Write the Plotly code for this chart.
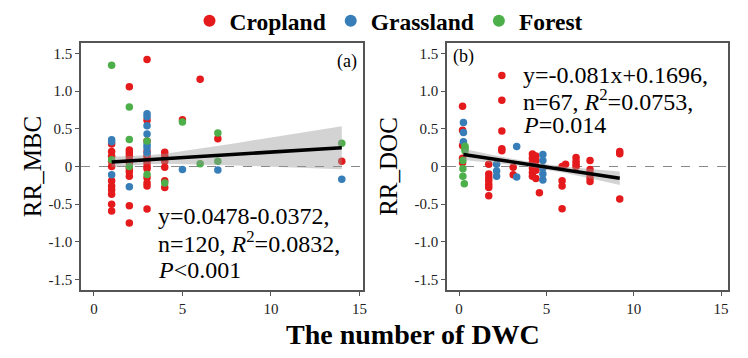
import plotly.graph_objects as go

# ---------- data: panel (a) RR_MBC ----------
mbc_crop_x = [1]*11 + [2]*11 + [3]*13 + [4]*6 + [5, 6, 7, 14]
mbc_crop_y = [0.30, 0.20, 0.135, 0.07, 0.0, -0.19, -0.26, -0.31, -0.37, -0.50, -0.59,
              1.06, 0.22, 0.18, 0.135, 0.09, 0.05, -0.03, -0.07, -0.13, -0.52, -0.75,
              1.42, 0.615, 0.34, 0.20, 0.135, 0.09, 0.05, 0.0, -0.03, -0.15, -0.22, -0.26, -0.565,
              0.19, 0.14, 0.07, -0.01, -0.19, -0.28,
              0.62, 1.16, 0.37, 0.07]
mbc_grass_x = [1, 1, 1, 2, 3, 3, 3, 3, 3, 3, 3, 5, 7, 14]
mbc_grass_y = [0.354, 0.33, -0.11, -0.27, 0.70, 0.66, 0.54, 0.43, 0.29, 0.25, 0.18, -0.04, -0.045, -0.17]
mbc_forest_x = [1, 1, 2, 2, 2, 3, 3, 4, 5, 6, 7, 7, 14]
mbc_forest_y = [1.345, 0.09, 0.79, 0.36, 0.0, 0.34, -0.105, -0.22, 0.59, 0.035, 0.445, 0.07, 0.31]

mbc_fit_x = [1, 14]
mbc_fit_y = [0.060, 0.250]
mbc_band_x = [1, 2, 3, 4, 6, 8, 10, 12, 14]
mbc_band_hi = [0.13, 0.136, 0.149, 0.17, 0.238, 0.31, 0.386, 0.46, 0.535]
mbc_band_lo = [-0.01, 0.014, 0.029, 0.038, 0.028, 0.014, -0.002, -0.018, -0.035]

# ---------- data: panel (b) RR_DOC ----------
doc_crop_x = [0.2]*5 + [1.7]*7 + [2.45]*5 + [3.1]*2 + [4.2]*6 + [4.4]*5 + [4.6] + [5.9]*4 + [6.1] + [6.7]*4 + [7.5]*5 + [9.2]*3
doc_crop_y = [0.80, 0.48, 0.28, 0.11, 0.05,
              0.03, -0.10, -0.15, -0.19, -0.24, -0.28, -0.39,
              1.21, 0.88, 0.47, 0.235, 0.21,
              -0.01, -0.11,
              0.165, 0.11, 0.05, -0.02, -0.08, -0.13,
              0.14, 0.08, 0.0, -0.05, -0.16,
              -0.35,
              -0.19, -0.26, -0.56, 0.0,
              0.03,
              0.12, 0.07, 0.03, 0.0,
              0.08, -0.04, -0.10, -0.15, -0.20,
              0.17, 0.20, -0.43]
doc_grass_x = [0.25, 0.25, 0.25, 2.15, 2.15, 2.15, 3.3, 3.3, 4.8, 4.8, 4.8, 4.8, 4.8]
doc_grass_y = [0.585, 0.45, 0.33, 0.03, -0.06, -0.13, 0.265, -0.14, 0.16, 0.08, -0.02, -0.10, -0.18]
doc_forest_x = [0.34, 0.34, 0.34, 0.22, 0.22, 0.22, 0.3]
doc_forest_y = [0.27, 0.24, 0.21, 0.08, -0.03, -0.13, -0.23]

doc_fit_x = [0.25, 9.2]
doc_fit_y = [0.16, -0.155]
doc_band_x = [0.25, 2, 4, 5, 6, 8, 9.2]
doc_band_hi = [0.235, 0.148, 0.063, 0.029, 0.0, -0.042, -0.065]
doc_band_lo = [0.085, 0.048, -0.007, -0.043, -0.084, -0.182, -0.245]

groups = ["Cropland", "Grassland", "Forest"]
colors = ["#E41A1C", "#377EB8", "#4DAF4A"]

y_tickvals = [1.5, 1.0, 0.5, 0, -0.5, -1.0, -1.5]
y_ticktext = ["1.5", "1.0", "0.5", "0", "-0.5", "-1.0", "-1.5"]
x_tickvals = [0, 5, 10, 15]

SERIF = "Liberation Serif"

fig = go.Figure()

panels = [
    ("x", "y", [(mbc_crop_x, mbc_crop_y), (mbc_grass_x, mbc_grass_y), (mbc_forest_x, mbc_forest_y)],
     mbc_band_x, mbc_band_lo, mbc_band_hi, mbc_fit_x, mbc_fit_y),
    ("x2", "y2", [(doc_crop_x, doc_crop_y), (doc_grass_x, doc_grass_y), (doc_forest_x, doc_forest_y)],
     doc_band_x, doc_band_lo, doc_band_hi, doc_fit_x, doc_fit_y),
]

for pi, (xa, ya, series, bx, blo, bhi, fx, fy) in enumerate(panels):
    for gi, (sx, sy) in enumerate(series):
        fig.add_trace(go.Scatter(
            x=sx, y=sy, mode="markers", name="<b>" + groups[gi] + "</b>", legendgroup=groups[gi],
            showlegend=(pi == 0),
            marker=dict(color=colors[gi], size=7.5, line=dict(width=0)),
            xaxis=xa, yaxis=ya))
    fig.add_trace(go.Scatter(x=bx, y=bhi, mode="lines", line=dict(width=0),
                             showlegend=False, hoverinfo="skip", xaxis=xa, yaxis=ya))
    fig.add_trace(go.Scatter(x=bx, y=blo, mode="lines", line=dict(width=0), fill="tonexty",
                             fillcolor="rgba(150,150,150,0.42)",
                             showlegend=False, hoverinfo="skip", xaxis=xa, yaxis=ya))
    fig.add_trace(go.Scatter(x=fx, y=fy, mode="lines", line=dict(color="black", width=3.5),
                             showlegend=False, xaxis=xa, yaxis=ya))

axis_common = dict(showgrid=False, zeroline=False, showline=True, mirror=True,
                   linecolor="#555555", linewidth=1.5, ticks="outside", ticklen=4,
                   tickcolor="#555555", automargin=False,
                   tickfont=dict(family=SERIF, size=15, color="#222222"))

# page has an 8px body margin, so the figure is 8px smaller than the window
W, H = 740, 350
ML, MR, MT, MB = 73, 20, 33, 68
PW = W - ML - MR
PH = H - MT - MB

fig.update_layout(
    width=W, height=H,
    margin=dict(l=ML, r=MR, t=MT, b=MB),
    paper_bgcolor="white", plot_bgcolor="white",
    xaxis=dict(domain=[0, 0.4359], range=[-0.73, 15.2], tickvals=x_tickvals, **axis_common),
    xaxis2=dict(domain=[0.5657, 1], range=[-0.69, 15.4], tickvals=x_tickvals, anchor="y2", **axis_common),
    yaxis=dict(range=[-1.64, 1.64], tickvals=y_tickvals, ticktext=y_ticktext,
               title=dict(text="RR_MBC", font=dict(family=SERIF, size=25, color="black"), standoff=0),
               **axis_common),
    yaxis2=dict(range=[-1.64, 1.64], tickvals=y_tickvals, ticktext=y_ticktext, anchor="x2",
                title=dict(text="RR_DOC", font=dict(family=SERIF, size=25, color="black"), standoff=10),
                **axis_common),
    legend=dict(orientation="h", xref="container", yref="container",
                x=381 / W, xanchor="center", y=1 - 13 / H, yanchor="middle",
                font=dict(family=SERIF, size=23.5, color="black"),
                itemsizing="constant", bgcolor="rgba(0,0,0,0)"),
    showlegend=True,
)

# zero reference lines
for xr, yr in [("x domain", "y"), ("x2 domain", "y2")]:
    fig.add_shape(type="line", xref=xr, yref=yr, x0=0, x1=1, y0=0, y1=0,
                  line=dict(color="#888888", width=1, dash="dash"), layer="below")

ann_font = dict(family=SERIF, size=24, color="black")
texts_a = ["y=0.0478-0.0372,", "n=120, <i>R</i><sup>2</sup>=0.0832,", "<i>P</i>&lt;0.001"]
texts_b = ["y=-0.081x+0.1696,", "n=67, <i>R</i><sup>2</sup>=0.0753,", "<i>P</i>=0.014"]
for t, yy in zip(texts_a, [0.301, 0.194, 0.08]):
    fig.add_annotation(text=t, xref="x domain", yref="y domain", x=0.265, y=yy,
                       xanchor="left", yanchor="middle", showarrow=False, font=ann_font)
for t, yy in zip(texts_b, [0.870, 0.770, 0.669]):
    fig.add_annotation(text=t, xref="x2 domain", yref="y2 domain", x=0.262, y=yy,
                       xanchor="left", yanchor="middle", showarrow=False, font=ann_font)
fig.add_annotation(text="(a)", xref="x domain", yref="y domain", x=0.942, y=0.924,
                   xanchor="center", yanchor="middle",
                   showarrow=False, font=dict(family=SERIF, size=18, color="black"))
fig.add_annotation(text="(b)", xref="x2 domain", yref="y2 domain", x=0.060, y=0.944,
                   xanchor="center", yanchor="middle",
                   showarrow=False, font=dict(family=SERIF, size=18, color="black"))
fig.add_annotation(text="<b>The number of DWC</b>", xref="paper", yref="paper",
                   x=(405 - ML) / PW, y=(H - MB - 327) / PH, xanchor="center", yanchor="middle",
                   showarrow=False, font=dict(family=SERIF, size=28, color="black"))

fig.write_html("out.html")
